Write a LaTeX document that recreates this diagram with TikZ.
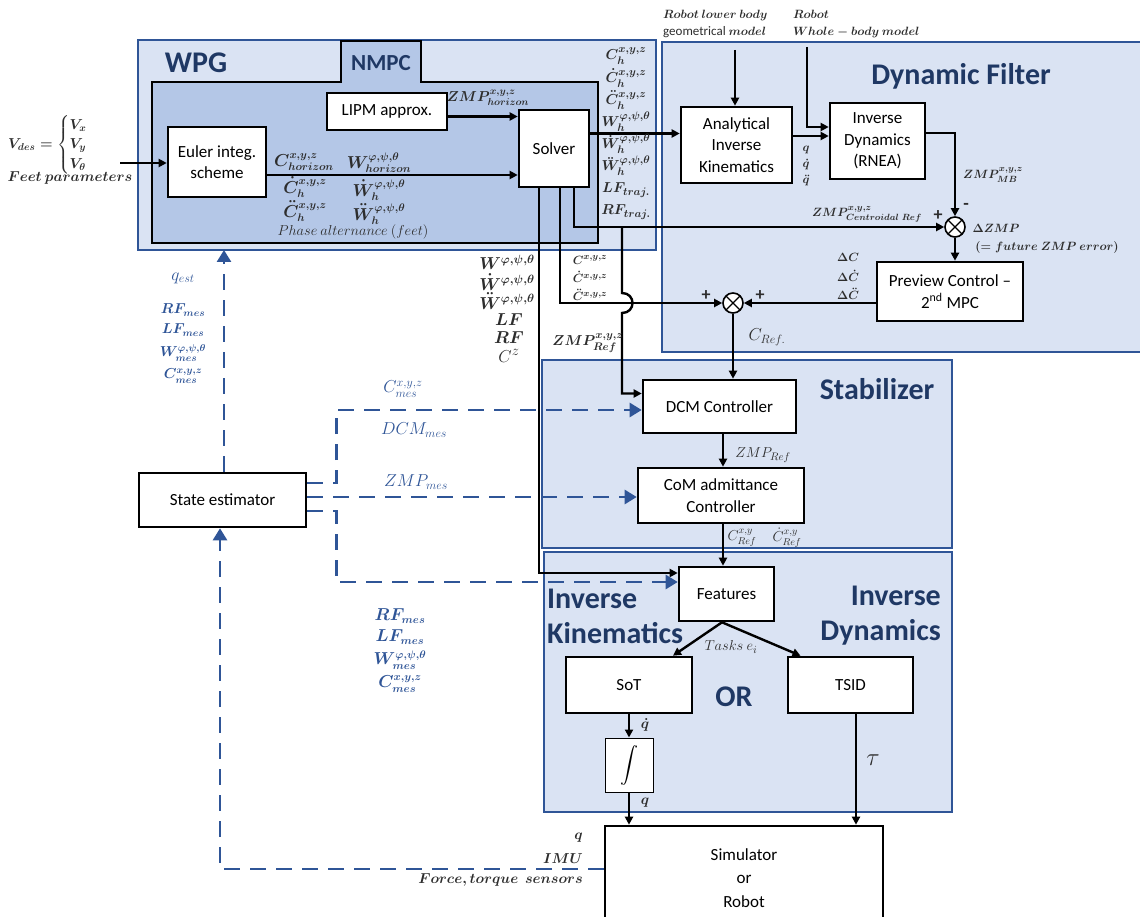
\documentclass[tikz,border=0pt]{standalone}
\usepackage{amsmath,amssymb}
\usepackage{fontspec}
\setmainfont{Carlito}
\usetikzlibrary{arrows.meta,positioning,calc}
\definecolor{panelblue}{RGB}{218,227,243}
\definecolor{nmpcblue}{RGB}{180,199,231}
\definecolor{edgeblue}{RGB}{47,85,151}
\definecolor{titleblue}{RGB}{31,56,100}
\definecolor{labgray}{RGB}{45,45,45}

\begin{document}
\begin{tikzpicture}[x=1pt,y=-1pt,
  panel/.style={draw=edgeblue,line width=1.2pt,fill=panelblue},
  blk/.style={draw,line width=2.6pt,fill=white,align=center,inner sep=2pt,font=\fontsize{17}{21.5}\selectfont},
  wire/.style={line width=2.4pt},
  arr/.style={line width=2.4pt,-{Triangle[length=8pt,width=8pt]}},
  dasharr/.style={edgeblue,line width=2.6pt,dash pattern=on 16pt off 10pt,-{Triangle[length=12pt,width=14pt]}},
  sumnode/.style={circle,draw,fill=white,line width=1.6pt,minimum size=20pt,inner sep=0pt,
    path picture={\draw[line width=1.2pt] (path picture bounding box.north west)--(path picture bounding box.south east)
      (path picture bounding box.north east)--(path picture bounding box.south west);}},
  title/.style={text=titleblue,font=\fontsize{30}{35}\selectfont\bfseries,inner sep=0pt},
  lab/.style={text=labgray,font=\fontsize{14}{16}\selectfont\boldmath,inner sep=0pt},
  slab/.style={text=labgray,font=\fontsize{13}{15}\selectfont\boldmath,inner sep=0pt},
  mlab/.style={text=labgray,font=\fontsize{16}{18}\selectfont\boldmath,inner sep=0pt},
  ilab/.style={text=labgray,font=\fontsize{15}{17}\selectfont,inner sep=0pt},
  blab/.style={text=edgeblue,font=\fontsize{14}{16}\selectfont\boldmath,inner sep=0pt},
  iblab/.style={text=edgeblue,font=\fontsize{17}{19}\selectfont,inner sep=0pt}]
\useasboundingbox (0,0) rectangle (1140,917);

% panels
\draw[panel] (138,40) rectangle (656,250);
\draw[fill=nmpcblue,line width=2.6pt] (152,82) -- (341,82) -- (341,41) -- (421,41) -- (421,82) -- (598,82) -- (598,243) -- (152,243) -- cycle;
\draw[panel] (662,42) rectangle (1150,352);
\draw[panel] (542,360) rectangle (952,548);
\draw[panel] (544,552) rectangle (952,812);

\node[title] (tWPG) at (196,63) {WPG};
\node[title,font=\fontsize{23}{26}\selectfont\bfseries] (tNMPC) at (381,63) {NMPC};
\node[title] (tDF) at (961,76) {Dynamic Filter};
\node[title] (tStab) at (877,389) {Stabilizer};
\node[title,align=left,anchor=west] (tIK) at (547,616) {Inverse\\Kinematics};
\node[title,align=right,anchor=east] (tID) at (941,616) {Inverse\\Dynamics};
\node[title] (tOR) at (734,697) {OR};

% blocks
\node[blk,minimum width=98pt,minimum height=70pt] (euler) at (217,162) {Euler integ.\\scheme};
\node[blk,minimum width=120pt,minimum height=37pt] (lipm) at (387,111.5) {LIPM approx.};
\node[blk,minimum width=70pt,minimum height=77pt] (solver) at (554,148.5) {Solver};
\node[blk,minimum width=111pt,minimum height=76pt] (aik) at (736.5,145) {Analytical\\Inverse\\Kinematics};
\node[blk,minimum width=95pt,minimum height=76pt] (rnea) at (877.5,141) {Inverse\\Dynamics\\(RNEA)};
\node[blk,minimum width=146pt,minimum height=59pt] (preview) at (950,291.5) {Preview Control --\\2\textsuperscript{nd} MPC};
\node[sumnode] (sum1) at (955,227) {};
\node[sumnode] (sum2) at (733,303) {};
\node[blk,minimum width=153pt,minimum height=53pt] (dcm) at (719.5,406.5) {DCM Controller};
\node[blk,minimum width=166pt,minimum height=55pt] (com) at (721,495.5) {CoM admittance\\Controller};
\node[blk,minimum width=95pt,minimum height=54pt] (feat) at (726.5,594) {Features};
\node[blk,minimum width=126pt,minimum height=56pt] (sot) at (629,685) {SoT};
\node[blk,minimum width=125pt,minimum height=56pt] (tsid) at (850.5,685) {TSID};
\node[draw,line width=1pt,fill=white,minimum width=48pt,minimum height=54pt,font=\fontsize{18}{20}\selectfont] (integ) at (629,765) {$\displaystyle\int$};
\node[blk,minimum width=278pt,minimum height=104pt,font=\fontsize{17}{23.5}\selectfont] (sim) at (744,878) {Simulator\\or\\Robot};
\node[blk,minimum width=167pt,minimum height=54pt] (est) at (222.5,500) {State estimator};

% connectors
\coordinate (vin) at (120,163);
\coordinate (lbtop) at (735,50);
\coordinate (wbtop) at (807,47);
\coordinate (zmpbr) at (622,227);
\coordinate (wpgbot) at (224,250);
\draw[arr] (vin) -- (vin -| euler.west);
\draw[arr] ([yshift=-5pt]lipm.east) -- ([yshift=-5pt]lipm.east -| solver.west);
\draw[arr] ([yshift=-13pt]euler.east) -- ([yshift=-13pt]euler.east -| solver.west);
\draw[arr] ([yshift=15pt]solver.east) -- ([yshift=15pt]solver.east -| aik.west);
\draw[arr] ([yshift=9pt]aik.east) -- ([yshift=9pt]aik.east -| rnea.west);
\draw[arr] (wbtop) |- ([yshift=14pt]rnea.west);
\draw[arr] (lbtop) -- (lbtop |- aik.north);
\draw[arr] ([yshift=8pt]rnea.east) -| (sum1.north);
\draw[arr] ([xshift=20pt]solver.south) |- (sum1.west);
\draw[arr] (zmpbr) -- (622,293) .. controls (636,293) and (636,313) .. (622,313) |- ([yshift=13pt]dcm.west);
\draw[arr] ([xshift=6pt]solver.south) |- (sum2.west);
\draw[arr] ([xshift=-15pt]solver.south) |- ([yshift=21pt]feat.west);
\draw[arr] (sum1.south) -- (sum1.south |- preview.north);
\draw[arr] (preview.west |- sum2) -- (sum2.east);
\draw[arr] (sum2.south) -- (sum2.south |- dcm.north);
\draw[arr] ([xshift=3.5pt]dcm.south) -- ([xshift=3.5pt]dcm.south |- com.north);
\draw[arr] ([xshift=2pt]com.south) -- ([xshift=2pt]com.south |- feat.north);
\draw[arr] ([xshift=-4.5pt]feat.south) -- ([xshift=44pt]sot.north);
\draw[arr] ([xshift=-4.5pt]feat.south) -- ([xshift=-50pt]tsid.north);
\draw[arr] (sot.south) -- (integ.north);
\draw[arr] (integ.south) -- (integ.south |- sim.north);
\draw[arr] ([xshift=5.5pt]tsid.south) -- ([xshift=5.5pt]tsid.south |- sim.north);

% measured signals
\draw[dasharr] ([xshift=1.5pt]est.north) -- (wpgbot);
\draw[dasharr] ([yshift=17pt]est.east) -- ++(29,0) |- ([yshift=-3.5pt]dcm.west);
\draw[dasharr] ([yshift=3pt]est.east) -- ([yshift=3pt]est.east -| com.west);
\draw[dasharr] ([yshift=-11pt]est.east) -- ++(29,0) |- ([yshift=12pt]feat.west);
\draw[dasharr] ([yshift=9pt]sim.west) -| ([xshift=-2.5pt]est.south);

% labels
\node[lab,anchor=west] (lVdes) at (8,145) {$V_{des}=\begin{cases}V_x\\V_y\\V_\theta\end{cases}$};
\node[lab] (lFeet) at (70,178) {$Feet\ parameters$};
\node[mlab] (lChor) at (304,162) {$C^{x,y,z}_{horizon}$};
\node[mlab] (lCdh) at (305,187) {$\dot C^{x,y,z}_h$};
\node[mlab] (lCddh) at (305,211) {$\ddot C^{x,y,z}_h$};
\node[mlab] (lWhor) at (379,163) {$W^{\varphi,\psi,\theta}_{horizon}$};
\node[mlab] (lWdh) at (379,190) {$\dot W^{\varphi,\psi,\theta}_h$};
\node[mlab] (lWddh) at (379,214) {$\ddot W^{\varphi,\psi,\theta}_h$};
\node[ilab,font=\fontsize{14}{16}\selectfont] (lPhase) at (353,232) {$Phase\ alternance\ (feet)$};
\node[lab] (lZhor) at (488,98) {$ZMP^{x,y,z}_{horizon}$};
\node[lab,font=\fontsize{15}{17}\selectfont\boldmath] (lCh) at (626,56) {$C_h^{x,y,z}$};
\node[lab,font=\fontsize{15}{17}\selectfont\boldmath] (lCdh2) at (626,78) {$\dot C_h^{x,y,z}$};
\node[lab,font=\fontsize{15}{17}\selectfont\boldmath] (lCddh2) at (626,100) {$\ddot C_h^{x,y,z}$};
\node[lab,font=\fontsize{15}{17}\selectfont\boldmath] (lWh) at (626,122) {$W_h^{\varphi,\psi,\theta}$};
\node[lab,font=\fontsize{15}{17}\selectfont\boldmath] (lWdh2) at (626,144) {$\dot W_h^{\varphi,\psi,\theta}$};
\node[lab,font=\fontsize{15}{17}\selectfont\boldmath] (lWddh2) at (626,166) {$\ddot W_h^{\varphi,\psi,\theta}$};
\node[lab,font=\fontsize{15}{17}\selectfont\boldmath] (lLFt) at (626,190) {$LF_{traj.}$};
\node[lab,font=\fontsize{15}{17}\selectfont\boldmath] (lRFt) at (626,212) {$RF_{traj.}$};
\node[lab,font=\fontsize{12}{17}\selectfont\boldmath,align=left,anchor=west] (lLower) at (663,24) {$Robot\ lower\ body$\\{\fontseries{m}\fontsize{13}{17}\selectfont geometrical} $model$};
\node[lab,font=\fontsize{12}{17}\selectfont\boldmath,align=left,anchor=west] (lWhole) at (793,24) {$Robot$\\$Whole-body\ model$};
\node[slab] (lq) at (806,150) {$q$};
\node[slab] (lqd) at (806,165) {$\dot q$};
\node[slab] (lqdd) at (806,181) {$\ddot q$};
\node[slab] (lZMB) at (993,175) {$ZMP^{x,y,z}_{MB}$};
\node[slab] (lZcen) at (867,214) {$ZMP^{x,y,z}_{Centroidal\ Ref}$};
\node[lab,font=\fontsize{18}{20}\selectfont\bfseries] (lp1) at (938,216) {+};
\node[lab,font=\fontsize{18}{20}\selectfont\bfseries] (lm1) at (966,206) {-};
\node[slab] (lDZ) at (996,228) {$\Delta ZMP$};
\node[slab] (lFut) at (1047,248) {$(=future\ ZMP\ error)$};
\node[slab] (lDC) at (848,257) {$\Delta C$};
\node[slab] (lDCd) at (848,276) {$\Delta\dot C$};
\node[slab] (lDCdd) at (848,294) {$\Delta\ddot C$};
\node[lab,font=\fontsize{18}{20}\selectfont\bfseries] (lp2) at (706,296) {+};
\node[lab,font=\fontsize{18}{20}\selectfont\bfseries] (lp3) at (760,296) {+};
\node[ilab,font=\fontsize{18}{20}\selectfont] (lCref) at (767,337) {$C_{Ref.}$};
\node[mlab,font=\fontsize{17}{19}\selectfont\boldmath] (lW) at (507,262) {$W^{\varphi,\psi,\theta}$};
\node[mlab,font=\fontsize{17}{19}\selectfont\boldmath] (lWd) at (507,282) {$\dot W^{\varphi,\psi,\theta}$};
\node[mlab,font=\fontsize{17}{19}\selectfont\boldmath] (lWdd) at (507,301) {$\ddot W^{\varphi,\psi,\theta}$};
\node[mlab] (lLF) at (509,320) {$LF$};
\node[mlab] (lRF) at (509,338) {$RF$};
\node[ilab,font=\fontsize{19}{21}\selectfont] (lCz) at (509,356) {$C^z$};
\node[slab] (lC) at (590,260) {$C^{x,y,z}$};
\node[slab] (lCd) at (590,277) {$\dot C^{x,y,z}$};
\node[slab] (lCdd) at (590,295) {$\ddot C^{x,y,z}$};
\node[lab,font=\fontsize{15}{17}\selectfont\boldmath] (lZref) at (588,343) {$ZMP^{x,y,z}_{Ref}$};
\node[ilab] (lZref2) at (763,455) {$ZMP_{Ref}$};
\node[ilab,font=\fontsize{14}{16}\selectfont] (lCrxy) at (742,538) {$C^{x,y}_{Ref}$};
\node[ilab,font=\fontsize{14}{16}\selectfont] (lCdrxy) at (787,538) {$\dot C^{x,y}_{Ref}$};
\node[ilab] (lTask) at (731,647) {$Tasks\ e_i$};
\node[lab] (lqd2) at (645,725) {$\dot q$};
\node[lab] (lq2) at (645,803) {$q$};
\node[ilab,font=\fontsize{28}{30}\selectfont] (ltau) at (873,760) {$\tau$};
\node[lab,font=\fontsize{15}{17}\selectfont\boldmath,anchor=east] (lqs) at (583,838) {$q$};
\node[lab,font=\fontsize{15}{17}\selectfont\boldmath,anchor=east] (lIMU) at (583,859) {$IMU$};
\node[lab,font=\fontsize{15}{17}\selectfont\boldmath,anchor=east] (lFT) at (583,880) {$Force,torque\ \ sensors$};
\node[iblab,font=\fontsize{18}{20}\selectfont] (lqest) at (183,278) {$q_{est}$};
\node[blab] (lRFm) at (183,310) {$RF_{mes}$};
\node[blab] (lLFm) at (183,330) {$LF_{mes}$};
\node[blab] (lWm) at (183,353) {$W^{\varphi,\psi,\theta}_{mes}$};
\node[blab] (lCm) at (183,376) {$C^{x,y,z}_{mes}$};
\node[blab,font=\fontsize{16}{18}\selectfont\boldmath] (lRFm2) at (400,616) {$RF_{mes}$};
\node[blab,font=\fontsize{16}{18}\selectfont\boldmath] (lLFm2) at (400,637) {$LF_{mes}$};
\node[blab,font=\fontsize{16}{18}\selectfont\boldmath] (lWm2) at (400,660) {$W^{\varphi,\psi,\theta}_{mes}$};
\node[blab,font=\fontsize{16}{18}\selectfont\boldmath] (lCm2) at (400,684) {$C^{x,y,z}_{mes}$};
\node[iblab] (lCm3) at (403,389) {$C^{x,y,z}_{mes}$};
\node[iblab] (lDCMm) at (414,430) {$DCM_{mes}$};
\node[iblab] (lZMPm) at (416,482) {$ZMP_{mes}$};
\end{tikzpicture}
\end{document}
